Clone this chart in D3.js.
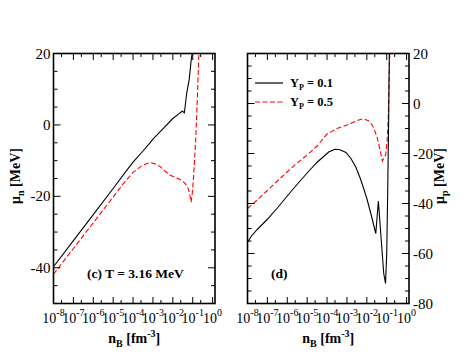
<!DOCTYPE html>
<html>
<head>
<meta charset="utf-8">
<script src="https://cdn.jsdelivr.net/npm/d3@7"></script>
<style>
body { margin: 0; background: #fff; }
svg text { font-family: "Times New Roman", "Liberation Serif", Times, serif; }
</style>
</head>
<body>
<div id="result"></div>
<script>
// log10(n_B) exponents and chemical potentials (MeV)
var cBlackLogN = [-8, -7, -6, -5, -4.3, -4, -3.5, -3.15, -3, -2.5, -2, -1.7, -1.52, -1.47, -1.42, -1.3, -1.18, -1.08, -1.03];
var cBlackMu   = [-39.7, -32.4, -25.1, -17.8, -12.6, -10.4, -7.3, -5, -4, -1.1, 1.8, 3.1, 3.9, 3.6, 3.4, 9, 12.6, 18, 20];
var cRedLogN = [-8, -7, -6, -5, -4.5, -4, -3.6, -3.3, -3.1, -2.9, -2.65, -2.4, -2.15, -1.9, -1.65, -1.45, -1.3, -1.2, -1.13, -1.08, -1.02, -0.95, -0.85, -0.75, -0.69];
var cRedMu   = [-41.8, -34.6, -27.4, -20.2, -16.5, -13.3, -11.6, -10.8, -10.6, -10.9, -11.6, -12.9, -14, -14.7, -15.2, -16, -17, -18.2, -20, -21.6, -19, -14, -4, 10, 20];

var dBlackLogN = [-8, -7.8, -7.5, -7, -6.5, -6, -5.5, -5, -4.5, -4.2, -3.9, -3.6, -3.35, -3.05, -2.8, -2.55, -2.35, -2.2, -2, -1.8, -1.55, -1.42, -1.3, -1.15, -1.06, -1.0, -0.95, -0.9, -0.87];
var dBlackMu   = [-55.5, -53, -50.3, -46.3, -41.8, -37, -32.3, -27.8, -23.5, -21.4, -19.3, -18.3, -18.5, -19.6, -22, -25.5, -29.5, -33, -38, -44, -52, -39, -52, -68, -72, -60, -35, -5, 20];
var dRedLogN = [-8, -7.5, -7, -6.5, -6, -5.5, -5, -4.5, -4, -3.5, -3, -2.6, -2.3, -2.1, -1.9, -1.7, -1.5, -1.35, -1.22, -1.15, -1.05, -0.98, -0.92, -0.85];
var dRedMu   = [-42, -38.5, -34.8, -31, -27.3, -23.8, -20.6, -17, -12.2, -10, -8.6, -7.2, -6.3, -6.3, -7, -9, -13, -18, -23, -22, -20.5, -15, -5, 20];

var decades = [-8, -7, -6, -5, -4, -3, -2, -1, 0];
var legendLabels = ["0.1", "0.5"];

var svg = d3.select("#result").append("svg")
    .attr("width", 463)
    .attr("height", 358);

var xDomain = [1e-8, Math.pow(10, 0.12)];

function pts(logN, mu) {
  return logN.map(function(v, i) { return {n: Math.pow(10, v), mu: mu[i]}; });
}

function panel(opt) {
  var x = d3.scaleLog().domain(xDomain).range([opt.left, opt.right]);
  var y = d3.scaleLinear().domain(opt.yDomain).range([303.5, 53.5]);

  var clipId = "clip" + opt.id;
  svg.append("clipPath").attr("id", clipId)
    .append("rect")
      .attr("x", opt.left).attr("y", 53.5)
      .attr("width", opt.right - opt.left).attr("height", 250);

  var line = d3.line()
      .x(function(d) { return x(d.n); })
      .y(function(d) { return y(d.mu); });

  var g = svg.append("g").attr("clip-path", "url(#" + clipId + ")");
  g.append("path")
    .datum(pts(opt.redN, opt.redMu))
    .attr("d", line)
    .attr("fill", "none")
    .attr("stroke", "red")
    .attr("stroke-width", 1.1)
    .attr("stroke-dasharray", "5,2.5");
  g.append("path")
    .datum(pts(opt.blackN, opt.blackMu))
    .attr("d", line)
    .attr("fill", "none")
    .attr("stroke", "black")
    .attr("stroke-width", 1.1);

  // x ticks (major decades + minor ticks), bottom and top, pointing inward
  var majors = decades.map(function(v) { return Math.pow(10, v); });
  var minors = decades.map(function(v) { return Math.pow(10, v + 0.4); })
      .filter(function(v) { return v < xDomain[1]; });
  var tg = svg.append("g").attr("stroke", "black").attr("stroke-width", 1);
  majors.forEach(function(v) {
    tg.append("line").attr("x1", x(v)).attr("x2", x(v)).attr("y1", 303.5).attr("y2", 297);
    tg.append("line").attr("x1", x(v)).attr("x2", x(v)).attr("y1", 53.5).attr("y2", 60);
  });
  minors.forEach(function(v) {
    tg.append("line").attr("x1", x(v)).attr("x2", x(v)).attr("y1", 303.5).attr("y2", 300);
    tg.append("line").attr("x1", x(v)).attr("x2", x(v)).attr("y1", 53.5).attr("y2", 57);
  });

  // y ticks on both sides
  var yt = d3.range(opt.yDomain[0], opt.yDomain[1] + 0.1, 5);
  yt.forEach(function(v) {
    var major = (v % 20 === 0);
    var len = major ? 7 : 4;
    tg.append("line").attr("x1", opt.left).attr("x2", opt.left + len).attr("y1", y(v)).attr("y2", y(v));
    tg.append("line").attr("x1", opt.right).attr("x2", opt.right - len).attr("y1", y(v)).attr("y2", y(v));
  });

  // frame
  svg.append("rect")
    .attr("x", opt.left).attr("y", 53.5)
    .attr("width", opt.right - opt.left).attr("height", 250)
    .attr("fill", "none").attr("stroke", "black").attr("stroke-width", 1.6);

  // x tick labels 10^n
  decades.forEach(function(v) {
    var t = svg.append("text")
      .attr("x", x(Math.pow(10, v)))
      .attr("y", 323)
      .attr("text-anchor", "middle")
      .attr("font-size", 14);
    t.append("tspan").text("10");
    t.append("tspan").attr("dy", -7).attr("font-size", 10).text(v === 0 ? "0" : "-" + (-v));
  });

  // y tick labels
  d3.range(opt.yDomain[1], opt.yDomain[0] - 0.1, -20).forEach(function(v) {
    if (opt.axisSide === "left" && v < -40) return;
    svg.append("text")
      .attr("x", opt.axisSide === "left" ? opt.left - 3 : opt.right + 4)
      .attr("y", y(v) + 5)
      .attr("text-anchor", opt.axisSide === "left" ? "end" : "start")
      .attr("font-size", 15)
      .text(v);
  });

  // x axis title
  var xt = svg.append("text")
    .attr("x", (opt.left + opt.right) / 2)
    .attr("y", 343)
    .attr("text-anchor", "middle")
    .attr("font-size", 14)
    .attr("font-weight", "bold");
  xt.append("tspan").text("n");
  xt.append("tspan").attr("dy", 4).attr("font-size", 10).text("B");
  xt.append("tspan").attr("dy", -4).text(" [fm");
  xt.append("tspan").attr("dy", -6).attr("font-size", 10).text("-3");
  xt.append("tspan").attr("dy", 6).text("]");

  // y axis title
  var yx = opt.axisSide === "left" ? 20 : 444;
  var ytl = svg.append("text")
    .attr("transform", "translate(" + yx + ",176) rotate(-90)")
    .attr("text-anchor", "middle")
    .attr("font-size", 14)
    .attr("font-weight", "bold");
  ytl.append("tspan").text("\u03bc");
  ytl.append("tspan").attr("dy", 4).attr("font-size", 10).text(opt.sub);
  ytl.append("tspan").attr("dy", -4).text(" [MeV]");

  // panel annotation
  svg.append("text")
    .attr("x", opt.noteX).attr("y", 278)
    .attr("font-size", 13.5)
    .attr("font-weight", "bold")
    .text(opt.note);

  return {x: x, y: y};
}

panel({
  id: "c", left: 53.5, right: 215, yDomain: [-50, 20], axisSide: "left", sub: "n",
  blackN: cBlackLogN, blackMu: cBlackMu, redN: cRedLogN, redMu: cRedMu,
  note: "(c) T = 3.16 MeV", noteX: 87
});

panel({
  id: "d", left: 247.5, right: 409, yDomain: [-80, 20], axisSide: "right", sub: "p",
  blackN: dBlackLogN, blackMu: dBlackMu, redN: dRedLogN, redMu: dRedMu,
  note: "(d)", noteX: 271
});

// legend
var leg = svg.append("g");
[["black", null], ["red", "5,2.5"]].forEach(function(s, i) {
  var ly = 83 + i * 19;
  leg.append("line")
    .attr("x1", 255).attr("x2", 283).attr("y1", ly).attr("y2", ly)
    .attr("stroke", s[0]).attr("stroke-width", 1.2)
    .attr("stroke-dasharray", s[1]);
  var t = leg.append("text")
    .attr("x", 290).attr("y", ly + 4)
    .attr("font-size", 12.5)
    .attr("font-weight", "bold");
  t.append("tspan").text("Y");
  t.append("tspan").attr("dy", 3).attr("font-size", 8).text("P");
  t.append("tspan").attr("dy", -3).text(" = " + legendLabels[i]);
});
</script>
</body>
</html>
